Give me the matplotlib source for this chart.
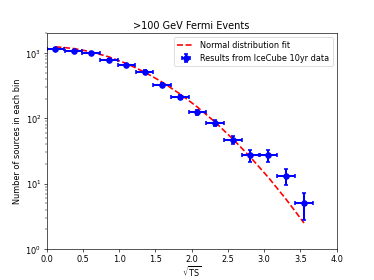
import numpy as np
import matplotlib
matplotlib.use("Agg")
import matplotlib.pyplot as plt

# bin centers in sqrt(TS) and half bin width
sqrt_ts = [0.12, 0.37, 0.61, 0.86, 1.10, 1.35, 1.59, 1.84, 2.08, 2.32, 2.57, 2.81, 3.06, 3.30, 3.55]
half_width = 0.122

# number of sources per bin (IceCube 10yr)
counts = [1135, 1080, 1006, 788, 654, 517, 325, 215, 123, 85, 47, 27, 27, 13, 5]

# normal distribution fit evaluated at bin centers
fit_vals = [1238, 1166, 1038, 866, 687, 508, 359, 235, 148, 88, 48, 25.5, 12.4, 5.84, 2.51]

counts_err = np.sqrt(counts)

fig, ax = plt.subplots(figsize=(6.4, 4.8), dpi=58.44)

ax.plot(sqrt_ts, fit_vals, "r--", lw=2, label="Normal distribution fit")
ax.errorbar(sqrt_ts, counts, xerr=half_width, yerr=counts_err,
            fmt="o", color="blue", ms=7, elinewidth=2.5, capsize=3,
            capthick=2, label="Results from IceCube 10yr data")

ax.set_yscale("log")
ax.set_xlim(0, 4)
ax.set_ylim(1, 2000)
ax.set_xlabel(r"$\sqrt{\rm TS}$", labelpad=0)
ax.set_ylabel("Number of sources in each bin")
ax.set_title(">100 GeV Fermi Events")
ax.legend(loc="upper right")

fig.savefig("out.png", dpi=58.44)
